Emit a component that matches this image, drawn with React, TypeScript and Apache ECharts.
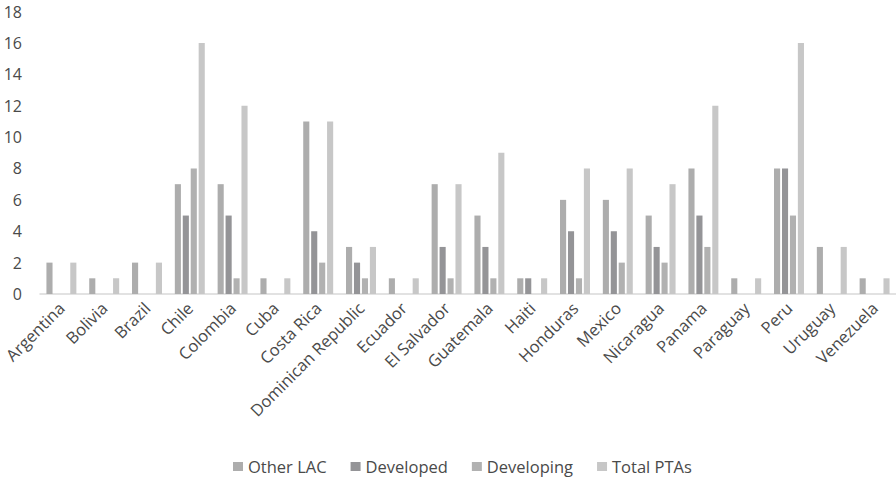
import React, { useEffect, useRef } from "react";
import * as echarts from "echarts";

const countries = [
  "Argentina", "Bolivia", "Brazil", "Chile", "Colombia", "Cuba", "Costa Rica",
  "Dominican Republic", "Ecuador", "El Salvador", "Guatemala", "Haiti", "Honduras",
  "Mexico", "Nicaragua", "Panama", "Paraguay", "Peru", "Uruguay", "Venezuela",
];
const otherLAC = [2, 1, 2, 7, 7, 1, 11, 3, 1, 7, 5, 1, 6, 6, 5, 8, 1, 8, 3, 1];
const developed = [0, 0, 0, 5, 5, 0, 4, 2, 0, 3, 3, 1, 4, 4, 3, 5, 0, 8, 0, 0];
const developing = [0, 0, 0, 8, 1, 0, 2, 1, 0, 1, 1, 0, 1, 2, 2, 3, 0, 5, 0, 0];
const totalPTAs = [2, 1, 2, 16, 12, 1, 11, 3, 1, 7, 9, 1, 8, 8, 7, 12, 1, 16, 3, 1];
const seriesNames = ["Other LAC", "Developed", "Developing", "Total PTAs"];
const colors = ["#ADADAD", "#949497", "#B1B1B1", "#C7C7C7"];

export default function App() {
  const ref = useRef<HTMLDivElement>(null);
  useEffect(() => {
    if (!ref.current) return;
    const chart = echarts.init(ref.current, undefined, { renderer: "svg" });
    const font = "'Open Sans', 'Noto Sans', sans-serif";
    const data = [otherLAC, developed, developing, totalPTAs];
    chart.setOption({
      animation: false,
      color: colors,
      textStyle: { fontFamily: font },
      grid: { left: 40, right: -3, top: 11.6, bottom: 187, containLabel: false },
      legend: {
        top: 453,
        left: 228,
        itemWidth: 10,
        itemHeight: 9,
        itemGap: 24,
        icon: "rect",
        textStyle: { fontSize: 16.5, color: "#4a4a4a", fontFamily: font },
        data: seriesNames,
      },
      xAxis: {
        type: "category",
        data: countries,
        axisLine: { lineStyle: { color: "#D9D9D9", width: 1.5 } },
        axisTick: { show: false },
        axisLabel: {
          interval: 0,
          rotate: 45,
          fontSize: 16.5,
          color: "#4a4a4a",
          fontFamily: font,
          margin: 11,
        },
      },
      yAxis: {
        type: "value",
        min: 0,
        max: 18,
        interval: 2,
        axisLine: { show: false },
        axisTick: { show: false },
        splitLine: { show: false },
        axisLabel: { fontSize: 16, color: "#4a4a4a", fontFamily: font, margin: 18 },
      },
      series: seriesNames.map((name, i) => ({
        name,
        type: "bar",
        data: data[i],
        barGap: "30%",
        barCategoryGap: "30%",
        itemStyle: { color: colors[i] },
      })),
    });
    return () => chart.dispose();
  }, []);
  return (
    <div
      ref={ref}
      style={{ position: "absolute", left: 0, top: 0, width: 896, height: 481, background: "#fff" }}
    />
  );
}
